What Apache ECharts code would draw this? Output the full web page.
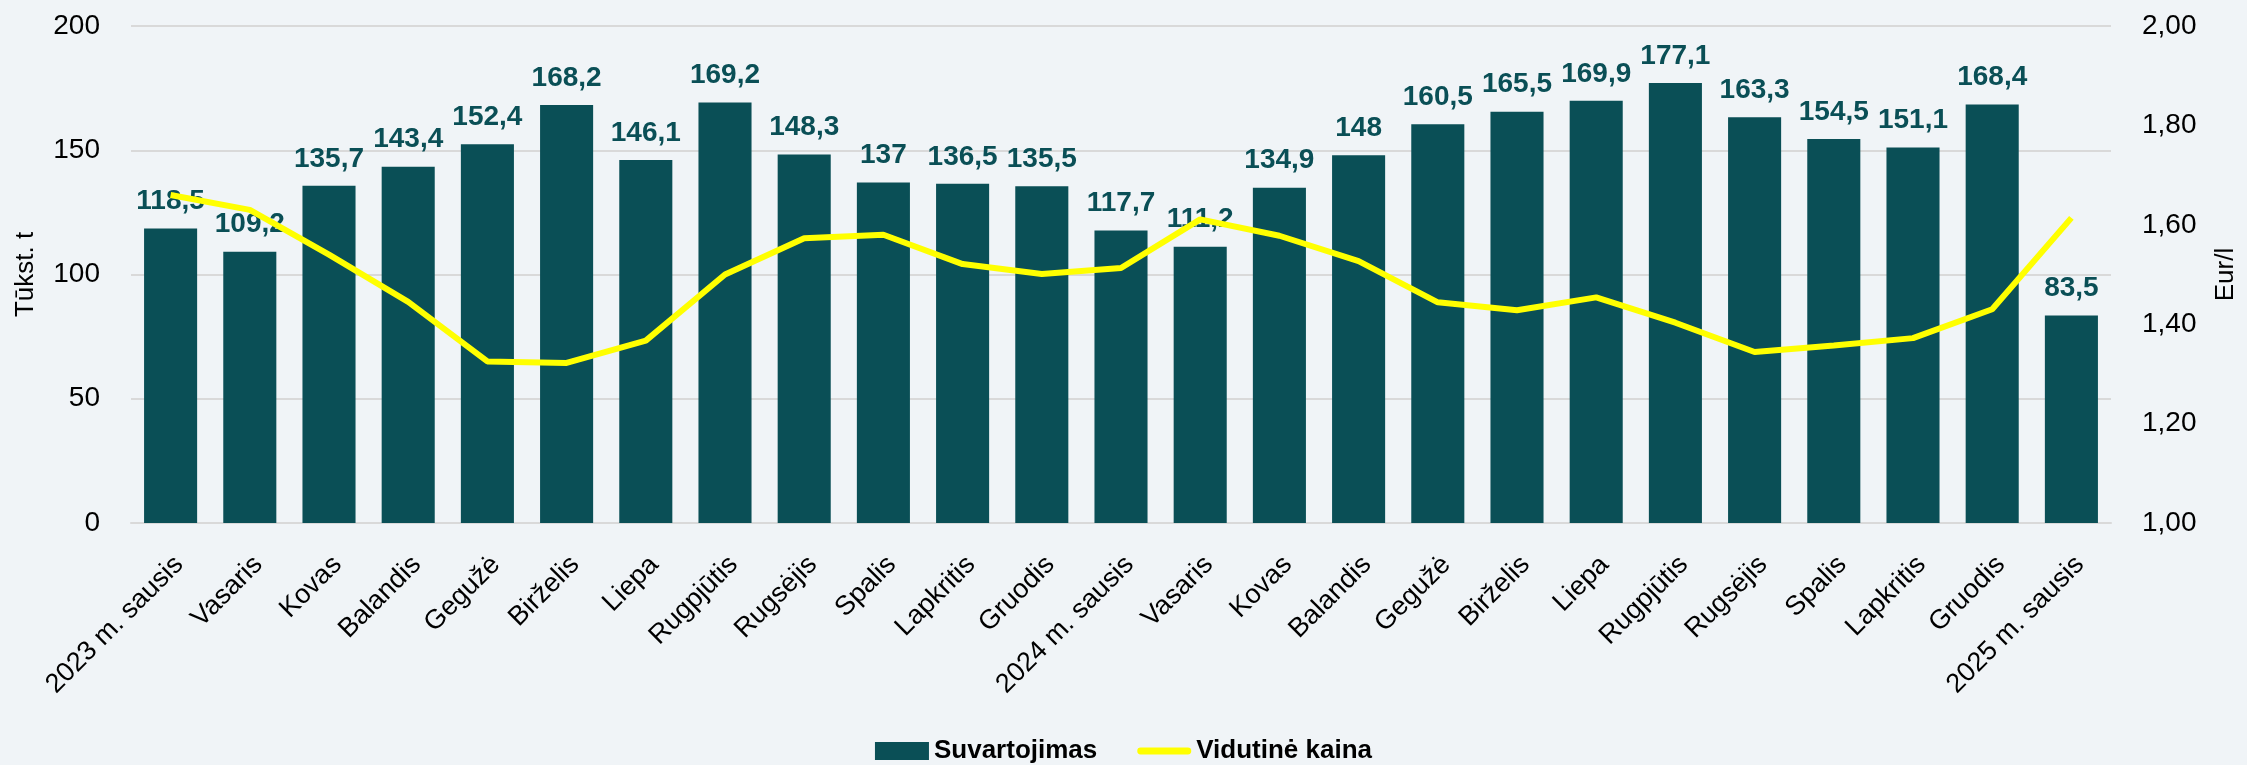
<!DOCTYPE html>
<html lang="lt">
  <head>
    <meta charset="UTF-8" />
    <title>Suvartojimas ir vidutinė kaina</title>
    <script src="https://cdn.jsdelivr.net/npm/echarts@6/dist/echarts.min.js"></script>
    <style>
      html, body { margin: 0; padding: 0; background: #f0f4f7; }
      #main { width: 2247px; height: 765px; }
    </style>
  </head>
  <body>
    <div id="main"></div>
    <script>
      const months = [
        "2023 m. sausis", "Vasaris", "Kovas", "Balandis", "Gegužė", "Birželis",
        "Liepa", "Rugpjūtis", "Rugsėjis", "Spalis", "Lapkritis", "Gruodis",
        "2024 m. sausis", "Vasaris", "Kovas", "Balandis", "Gegužė", "Birželis",
        "Liepa", "Rugpjūtis", "Rugsėjis", "Spalis", "Lapkritis", "Gruodis",
        "2025 m. sausis",
      ];
      // suvartojimas, tūkst. t
      const consumption = [
        118.5, 109.2, 135.7, 143.4, 152.4, 168.2, 146.1, 169.2, 148.3, 137,
        136.5, 135.5, 117.7, 111.2, 134.9, 148, 160.5, 165.5, 169.9, 177.1,
        163.3, 154.5, 151.1, 168.4, 83.5,
      ];
      // vidutinė kaina, Eur/l (nuskaityta nuo grafiko)
      const avgPrice = [
        1.66, 1.63, 1.54, 1.445, 1.325, 1.322, 1.367, 1.5, 1.573, 1.58,
        1.521, 1.501, 1.513, 1.611, 1.578, 1.527, 1.444, 1.428, 1.454, 1.403,
        1.344, 1.357, 1.372, 1.43, 1.614,
      ];

      const font = "Liberation Sans";
      const teal = "#0a4f56";
      const comma = (v) => String(v).replace(".", ",");

      const chart = echarts.init(document.getElementById("main"));
      const option = {
        backgroundColor: "#f0f4f7",
        animation: false,
        textStyle: { fontFamily: font },
        grid: { left: 131, right: 131, top: 26, bottom: 242, containLabel: false },
        legend: {
          top: 733,
          left: "center",
          itemWidth: 54,
          itemHeight: 18,
          itemGap: 40,
          textStyle: { fontSize: 26, fontWeight: "bold", color: "#000", fontFamily: font },
          data: [
            { name: "Suvartojimas", icon: "rect" },
            {
              name: "Vidutinė kaina",
              icon: "path://M3,0 L51,0 A3.5,3.5 0 0 1 51,7 L3,7 A3.5,3.5 0 0 1 3,0 Z",
            },
          ],
        },
        xAxis: {
          type: "category",
          data: months,
          axisTick: { show: false },
          axisLine: { lineStyle: { color: "#d9d9d9", width: 2 } },
          axisLabel: {
            interval: 0,
            rotate: 45,
            margin: 46,
            padding: [0, -12, 0, 0],
            fontSize: 27,
            color: "#000",
            fontFamily: font,
          },
        },
        yAxis: [
          {
            type: "value",
            min: 0,
            max: 200,
            interval: 50,
            name: "Tūkst. t",
            nameLocation: "middle",
            nameRotate: 90,
            nameGap: 92,
            nameTextStyle: { fontSize: 26, color: "#000", fontFamily: font },
            axisLabel: { fontSize: 28, color: "#000", margin: 31, fontFamily: font },
            splitLine: { lineStyle: { color: "#d9d9d9", width: 2 } },
          },
          {
            type: "value",
            min: 1,
            max: 2,
            interval: 0.2,
            name: "Eur/l",
            nameLocation: "middle",
            nameRotate: 90,
            nameGap: 102,
            nameTextStyle: { fontSize: 26, color: "#000", fontFamily: font },
            axisLabel: {
              fontSize: 28,
              color: "#000",
              margin: 31,
              fontFamily: font,
              formatter: (v) => v.toFixed(2).replace(".", ","),
            },
            splitLine: { show: false },
          },
        ],
        series: [
          {
            name: "Suvartojimas",
            type: "bar",
            data: consumption,
            barWidth: "67%",
            itemStyle: { color: teal },
            label: {
              show: true,
              position: "top",
              distance: 13,
              color: teal,
              fontWeight: "bold",
              fontSize: 28,
              fontFamily: font,
              formatter: (p) => comma(p.value),
            },
          },
          {
            name: "Vidutinė kaina",
            type: "line",
            yAxisIndex: 1,
            data: avgPrice,
            symbol: "none",
            z: 5,
            lineStyle: { color: "#ffff00", width: 6 },
            itemStyle: { color: "#ffff00" },
          },
        ],
      };
      chart.setOption(option);
    </script>
  </body>
</html>
